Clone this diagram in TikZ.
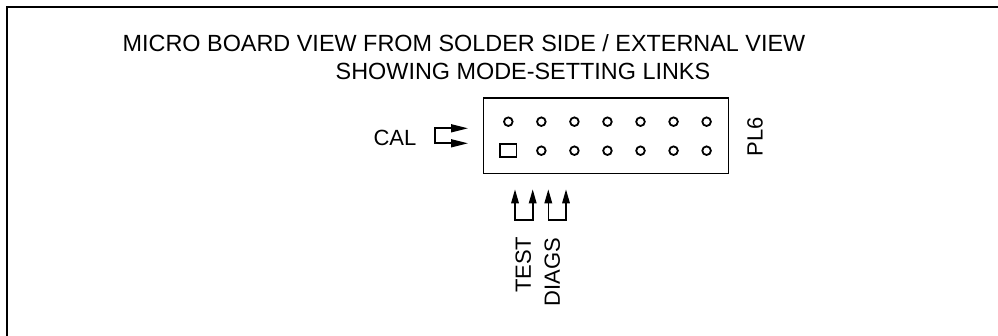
\documentclass[tikz,border=0pt]{standalone}
\usepackage{fontspec}
\setmainfont{Liberation Sans}
\usetikzlibrary{arrows.meta}
\begin{document}
\begin{tikzpicture}[x=1pt,y=-1pt,
  ttl/.style={inner sep=0pt, anchor=base west, font=\fontsize{23.4}{28}\selectfont},
  lbl/.style={inner sep=0pt, font=\fontsize{22}{26}\selectfont},
  pin/.style={circle, draw, line width=1.8pt, minimum size=8.6pt, inner sep=0pt},
  sqpin/.style={draw, line width=1.8pt, minimum width=16.5pt, minimum height=12.5pt, inner sep=0pt},
  hdr/.style={draw, line width=1.8pt, minimum width=245pt, minimum height=75.5pt, inner sep=0pt},
  lnkh/.style={line width=1.6pt, line join=miter, {Triangle[length=17pt,width=8pt]}-{Triangle[length=17pt,width=8pt]}},
  lnkv/.style={line width=1.6pt, line join=miter, {Triangle[length=14pt,width=7.5pt]}-{Triangle[length=14pt,width=7.5pt]}},
]
\useasboundingbox (0,0) rectangle (998,336);
\draw[line width=2.2pt] (998,7) -- (7,7) -- (7,336);

\node[ttl] (title1) at (122.5,51.7) {MICRO BOARD VIEW FROM SOLDER SIDE / EXTERNAL VIEW};
\node[ttl] (title2) at (335.5,80) {SHOWING MODE-SETTING LINKS};

\node[hdr] (pl) at (606,135.75) {};
\foreach \i in {0,...,6} {
  \node[pin] (t\i) at (508.3+33.05*\i,121.7) {};
}
\node[sqpin] (b0) at (508.3,150.5) {};
\foreach \i in {1,...,6} {
  \node[pin] (b\i) at (508.3+33.05*\i,150.7) {};
}

\node[lbl, rotate=90] (pl6) at (755,136.7) {PL6};

% CAL link
\node[lbl] (cal) at (395,137.5) {CAL};
\coordinate (calT) at (468,128.3);
\coordinate (calB) at (468,143.3);
\coordinate (calTL) at (435,128.3);
\coordinate (calBL) at (435,143.3);
\draw[lnkh] (calT) -- (calTL) -- (calBL) -- (calB);

% TEST link
\coordinate (teA) at (515,189.3);
\coordinate (teB) at (532.7,189.3);
\coordinate (teAb) at (515,220);
\coordinate (teBb) at (532.7,220);
\draw[lnkv] (teA) -- (teAb) -- (teBb) -- (teB);

% DIAGS link
\coordinate (diA) at (548.3,189.3);
\coordinate (diB) at (566,189.3);
\coordinate (diAb) at (548.3,220);
\coordinate (diBb) at (566,220);
\draw[lnkv] (diA) -- (diAb) -- (diBb) -- (diB);

\node[lbl, rotate=90] (test) at (523.3,264.7) {TEST};
\node[lbl, rotate=90] (diags) at (552.3,272.3) {DIAGS};
\end{tikzpicture}
\end{document}
